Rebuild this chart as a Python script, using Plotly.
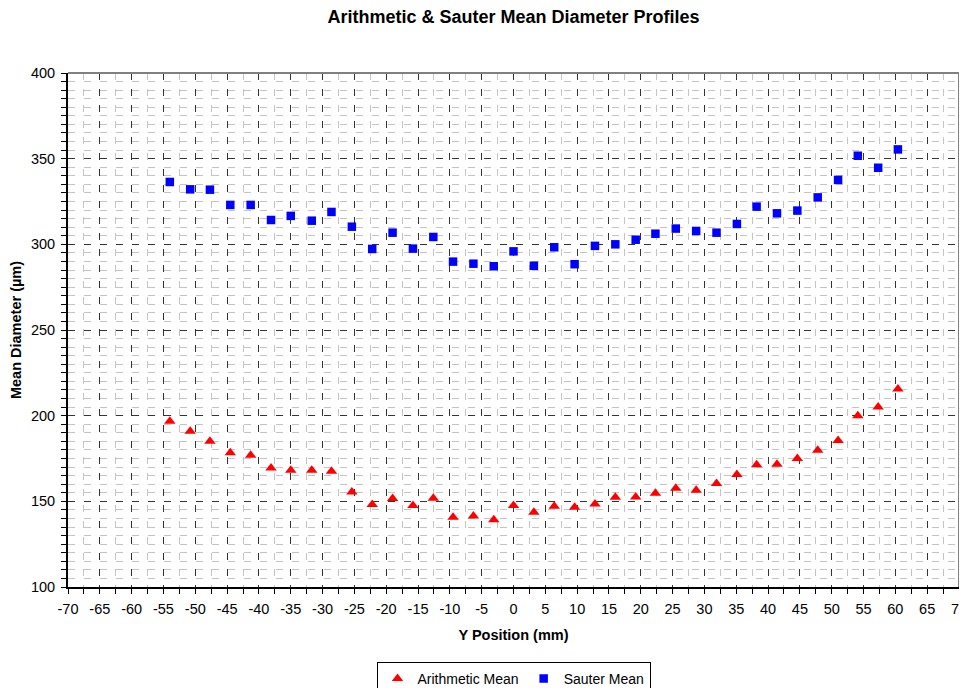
import plotly.graph_objects as go

# --------------------------------------------------------
# data
# --------------------------------------------------------
y_position = [-54.0, -50.8, -47.7, -44.5, -41.3, -38.1, -35.0, -31.7, -28.6, -25.4,
              -22.2, -19.0, -15.8, -12.6, -9.5, -6.3, -3.1, 0.0, 3.2, 6.4,
              9.6, 12.8, 16.0, 19.2, 22.3, 25.5, 28.7, 31.9, 35.1, 38.2,
              41.4, 44.6, 47.8, 51.0, 54.1, 57.3, 60.4]

arithmetic_mean = [196.7, 190.9, 185.1, 178.3, 176.9, 169.5, 168.1, 168.1, 167.6, 155.5,
                   148.1, 151.6, 147.5, 151.8, 140.7, 141.5, 139.2, 147.6, 143.6, 147.1,
                   146.6, 148.5, 152.4, 152.6, 154.7, 157.6, 156.5, 160.4, 165.6, 171.3,
                   171.6, 175.0, 179.8, 185.5, 199.9, 205.1, 215.6]

sauter_mean = [336.4, 332.1, 331.9, 323.0, 323.0, 314.2, 316.6, 313.8, 318.9, 310.3,
               297.3, 306.8, 297.5, 304.3, 289.9, 288.7, 287.2, 295.9, 287.5, 298.3,
               288.4, 299.1, 300.0, 302.7, 306.2, 309.2, 307.8, 306.8, 311.9, 322.0,
               318.1, 319.7, 327.4, 337.6, 351.7, 344.7, 355.4]

# x tick labels with a plain hyphen, like Excel
x_ticks = list(range(-70, 75, 5))
x_ticktext = [str(v) for v in x_ticks]

FONT = "Liberation Sans, Arial, sans-serif"
MAJOR = "#333333"
MINOR = "#c4c4c4"
DASH = "7px,9px"
TICK_SIZE = 14.5

# the page body adds an 8px margin, so the figure is shifted by 8px
W, H = 962, 680

fig = go.Figure()

fig.add_trace(go.Scatter(
    x=y_position, y=arithmetic_mean, mode="markers", name="Arithmetic Mean",
    marker=dict(symbol="triangle-up", size=10, color="#ff0000")
))
fig.add_trace(go.Scatter(
    x=y_position, y=sauter_mean, mode="markers", name="Sauter Mean",
    marker=dict(symbol="square", size=8.5, color="#0000ff")
))

fig.update_xaxes(
    range=[-70, 70], tickvals=x_ticks, ticktext=x_ticktext,
    showgrid=True, gridcolor=MAJOR, griddash=DASH, gridwidth=1,
    showline=True, linecolor="#000000", linewidth=2,
    ticks="outside", ticklen=5, tickcolor="#000000", ticklabelstandoff=3,
    ticklabeloverflow="allow",
    minor=dict(dtick=2.5, tick0=0, showgrid=True, gridcolor=MINOR, griddash=DASH,
               ticks="outside", ticklen=5, tickcolor="#000000"),
    zeroline=False, automargin=False,
    tickfont=dict(size=TICK_SIZE, color="#000000"),
    title=dict(text="<b>Y Position (mm)</b>", font=dict(size=14.5, color="#000000"), standoff=13),
)

fig.update_yaxes(
    range=[100, 400], dtick=50,
    showgrid=True, gridcolor=MAJOR, griddash=DASH, gridwidth=1,
    showline=True, linecolor="#000000", linewidth=2,
    ticks="outside", ticklen=5, tickcolor="#000000", ticklabelstandoff=3,
    minor=dict(dtick=5, showgrid=True, gridcolor=MINOR, griddash=DASH,
               ticks="outside", ticklen=5, tickcolor="#000000"),
    zeroline=False, automargin=False,
    tickfont=dict(size=TICK_SIZE, color="#000000"),
    title=dict(text="<b>Mean Diameter (µm)</b>", font=dict(size=14.5, color="#000000"), standoff=11),
)

# grey frame on top and right like the original
fig.add_shape(type="line", xref="paper", yref="paper", x0=0, x1=1, y0=1, y1=1,
              line=dict(color="#808080", width=2))
fig.add_shape(type="line", xref="paper", yref="paper", x0=1, x1=1, y0=0, y1=1,
              line=dict(color="#808080", width=2))

fig.update_layout(
    width=W, height=H,
    margin=dict(l=60, r=11, t=65, b=101),
    paper_bgcolor="white", plot_bgcolor="white",
    font=dict(family=FONT, color="#000000"),
    title=dict(text="<b>Arithmetic & Sauter Mean Diameter Profiles</b>",
               x=0.5, xref="paper", xanchor="center",
               y=1 - 9 / H, yref="container", yanchor="middle",
               font=dict(size=18, color="#000000")),
    showlegend=True,
    legend=dict(orientation="h", x=0.5, xanchor="center",
                y=1 - 654 / H, yref="container", yanchor="top",
                bgcolor="white", bordercolor="#000000", borderwidth=1,
                font=dict(size=14), itemwidth=30),
)

fig.write_html("out.html")
